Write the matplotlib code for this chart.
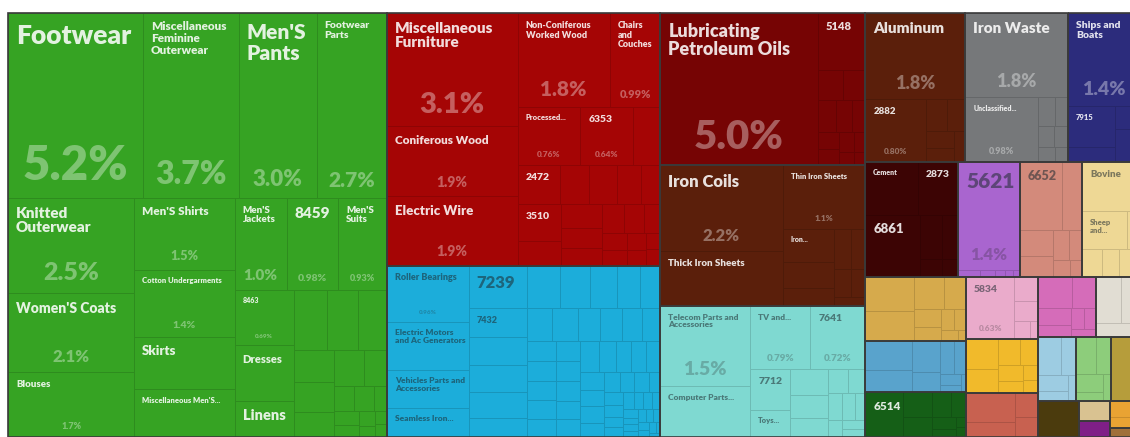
import matplotlib
matplotlib.use("Agg")
import matplotlib.pyplot as plt
from matplotlib.patches import Rectangle
from matplotlib.colors import to_rgb

plt.rcParams['font.family'] = ['Lato', 'DejaVu Sans']

# ---- data (share of exports, %) ----
# textiles
tex_names = ["Footwear", "Miscellaneous\nFeminine\nOuterwear", "Men'S\nPants", "Footwear\nParts",
             "Knitted\nOuterwear", "Women'S Coats", "Blouses",
             "Men'S Shirts", "Cotton Undergarments", "Skirts", "Miscellaneous Men'S...",
             "Men'S\nJackets", "8459", "Men'S\nSuits",
             "8463", "Dresses", "Linens"]
tex_values = [5.2, 3.7, 3.0, 2.7, 2.5, 2.1, 1.7, 1.5, 1.4, 1.1, 1.0, 1.0, 0.98, 0.93, 0.69, 0.68, 0.45]
tex_small = [0.42, 0.39, 0.37, 0.27, 0.25, 0.21, 0.22, 0.17, 0.105, 0.105, 0.07,
             0.07, 0.06, 0.05, 0.04, 0.03, 0.03]

# wood, furniture
red_names = ["Miscellaneous\nFurniture", "Coniferous Wood", "Electric Wire",
             "Non-Coniferous\nWorked Wood", "Chairs\nand\nCouches", "Processed...", "6353",
             "2472", "3510"]
red_values = [3.1, 1.9, 1.9, 1.8, 0.99, 0.76, 0.64, 0.34, 0.34]
red_small = [0.33, 0.24, 0.23, 0.19, 0.16, 0.22, 0.20, 0.17, 0.15, 0.13, 0.12, 0.10,
             0.09, 0.08, 0.07, 0.06, 0.05, 0.05]

# machines
blue_names = ["Roller Bearings", "Electric Motors\nand Ac Generators",
              "Vehicles Parts and\nAccessories", "Seamless Iron...", "7239", "7432"]
blue_values = [0.96, 0.82, 0.65, 0.50, 0.52, 0.35]
blue_small = [0.34, 0.33, 0.32, 0.23,
              0.29, 0.27, 0.24, 0.21, 0.18,
              0.17, 0.17, 0.15, 0.15, 0.135, 0.12,
              0.125, 0.12, 0.115, 0.115, 0.11,
              0.10, 0.10, 0.10, 0.09, 0.09,
              0.12, 0.11, 0.10, 0.10, 0.09, 0.09, 0.08, 0.08, 0.07, 0.07, 0.06, 0.06,
              0.05, 0.05, 0.05, 0.04, 0.04, 0.04, 0.03, 0.03, 0.03, 0.03, 0.02, 0.02,
              0.02, 0.02, 0.02, 0.02, 0.02, 0.015, 0.015, 0.01, 0.01]

# mineral products
min_names = ["Lubricating\nPetroleum Oils", "5148"]
min_values = [5.0, 0.56]
min_small = [0.16, 0.14, 0.12, 0.10, 0.09, 0.08, 0.07, 0.06, 0.05, 0.04, 0.03]

# iron
met_names = ["Iron Coils", "Thick Iron Sheets", "Thin Iron Sheets", "Iron..."]
met_values = [2.2, 1.4, 1.1, 0.36]
met_small = [0.27, 0.20, 0.14, 0.12, 0.10, 0.08, 0.06]

# electronics
tel_names = ["Telecom Parts and\nAccessories", "Computer Parts...", "TV and...", "7641",
             "7712", "Toys..."]
tel_values = [1.5, 0.95, 0.79, 0.72, 0.34, 0.23]
tel_small = [0.20, 0.18, 0.15, 0.10, 0.09, 0.08, 0.07, 0.06, 0.05, 0.04, 0.04]

# smaller sections
alu_names, alu_values = ["Aluminum", "2882"], [1.8, 0.80]
alu_small = [0.14, 0.12, 0.10, 0.08, 0.07]
waste_names, waste_values = ["Iron Waste", "Unclassified..."], [1.8, 0.98]
waste_small = [0.10, 0.08, 0.07, 0.06, 0.05, 0.04]
ship_names, ship_values = ["Ships and\nBoats", "7915"], [1.4, 0.40]
ship_small = [0.15, 0.12, 0.10, 0.07]
stone_names, stone_values = ["Cement", "2873", "6861"], [0.58, 0.44, 0.71]
stone_small = [0.20, 0.15, 0.08, 0.06]
chem_names, chem_values = ["5621"], [1.4]
chem_small = [0.03, 0.02, 0.015, 0.01, 0.01]
glass_names, glass_values = ["6652"], [0.6]
glass_small = [0.28, 0.18, 0.14, 0.10, 0.08, 0.06, 0.04]
animal_names, animal_values = ["Bovine", "Sheep\nand..."], [0.6, 0.35]
animal_small = [0.10, 0.12, 0.10, 0.07, 0.05]
gold_small = [0.35, 0.30, 0.20, 0.15, 0.10, 0.08, 0.06, 0.05, 0.04, 0.02]
steel_small = [0.28, 0.22, 0.18, 0.12, 0.10, 0.08, 0.05, 0.03, 0.02]
dkgreen_names, dkgreen_values = ["6514"], [0.35]
dkgreen_small = [0.15, 0.12, 0.10, 0.08, 0.06, 0.04, 0.02, 0.02]
pink_names, pink_values = ["5834"], [0.63]
pink_small = [0.12, 0.10, 0.06, 0.03]
yellow_small = [0.20, 0.16, 0.12, 0.10, 0.08, 0.06, 0.05, 0.04]
redsal_small = [0.30, 0.15, 0.12, 0.10]
magenta_small = [0.22, 0.15, 0.12, 0.08, 0.06, 0.05, 0.04]
cream_small = [0.25, 0.18, 0.13]
lblue_small = [0.18, 0.12, 0.10, 0.06, 0.04]
lgreen_small = [0.15, 0.12, 0.10, 0.05, 0.05]
olive_small = [0.38]
dkolive_small = [0.31]
tan_small = [0.13]
plum_small = [0.10]
orange_small = [0.08, 0.05, 0.04]
brown_small = [0.06]

# label font sizes (name pt, percent pt); 0 = not shown
LABEL_PT = {
    "Footwear": (19, 34), "Miscellaneous\nFeminine\nOuterwear": (8.5, 23),
    "Men'S\nPants": (15, 16), "Footwear\nParts": (7.5, 15),
    "Knitted\nOuterwear": (11, 18), "Women'S Coats": (10, 12), "Blouses": (7, 6.5),
    "Men'S Shirts": (8.5, 9), "Cotton Undergarments": (5.5, 7.5), "Skirts": (9.5, 0),
    "Miscellaneous Men'S...": (5.5, 0), "Men'S\nJackets": (7, 11), "8459": (11, 7.5),
    "Men'S\nSuits": (7, 6.5), "8463": (5, 4.5), "Dresses": (8, 0), "Linens": (10.5, 0),
    "Miscellaneous\nFurniture": (11, 21), "Coniferous Wood": (8.5, 10),
    "Electric Wire": (9.5, 10), "Non-Coniferous\nWorked Wood": (6.5, 15),
    "Chairs\nand\nCouches": (6.5, 8), "Processed...": (5.5, 6), "6353": (7.5, 6),
    "2472": (7.5, 0), "3510": (7.5, 0),
    "Roller Bearings": (6.5, 4.5), "Electric Motors\nand Ac Generators": (6, 0),
    "Vehicles Parts and\nAccessories": (6, 0), "Seamless Iron...": (6, 0),
    "7239": (12, 0), "7432": (6.5, 0),
    "Lubricating\nPetroleum Oils": (13, 29), "5148": (8, 0),
    "Iron Coils": (12, 12), "Thick Iron Sheets": (7, 0), "Thin Iron Sheets": (5.5, 6),
    "Iron...": (5, 0),
    "Telecom Parts and\nAccessories": (6, 14), "Computer Parts...": (6, 0),
    "TV and...": (6, 7), "7641": (7.5, 7), "7712": (7.5, 0), "Toys...": (5.5, 0),
    "Aluminum": (11, 13), "2882": (7, 6), "Iron Waste": (11, 13),
    "Unclassified...": (5, 6.5), "Ships and\nBoats": (7.5, 14), "7915": (5.5, 0),
    "Cement": (5, 0), "2873": (7.5, 0), "6861": (9.5, 0), "5621": (15, 12),
    "6652": (9, 0), "Bovine": (7, 0), "Sheep\nand...": (5.5, 0), "5834": (7.5, 6),
    "6514": (8.5, 0),
}


# ---- treemap helpers ----
def cells(names, values, color):
    return [("leaf", n, v, color) for n, v in zip(names, values)]


def filler(values, color):
    return [("leaf", "", v, color) for v in values]


def total(node):
    if node[0] == "leaf":
        return node[2]
    if node[0] == "grp":
        return total(node[1])
    return sum(total(k) for k in node[1])


def squarify(vals, x0, y0, x1, y1, ratio=1.618):
    # same row logic as d3.treemapSquarify
    rects = []
    value = sum(vals)
    i0, n = 0, len(vals)
    while i0 < n:
        dx, dy = x1 - x0, y1 - y0
        s = mn = mx = vals[i0]
        i1 = i0 + 1
        alpha = max(dy / dx, dx / dy) / (value * ratio)
        beta = s * s * alpha
        best = max(mx / beta, beta / mn)
        while i1 < n:
            v = vals[i1]
            s2, mn2, mx2 = s + v, min(mn, v), max(mx, v)
            beta = s2 * s2 * alpha
            r = max(mx2 / beta, beta / mn2)
            if r > best:
                break
            s, mn, mx, best = s2, mn2, mx2, r
            i1 += 1
        if dx < dy:
            yb = y0 + dy * s / value
            xx = x0
            for v in vals[i0:i1]:
                w = dx * v / s
                rects.append((xx, y0, xx + w, yb))
                xx += w
            y0 = yb
        else:
            xb = x0 + dx * s / value
            yy = y0
            for v in vals[i0:i1]:
                h = dy * v / s
                rects.append((x0, yy, xb, yy + h))
                yy += h
            x0 = xb
        value -= s
        i0 = i1
    return rects


leaves, groups = [], []


def place(node, x0, y0, x1, y1):
    kind = node[0]
    if kind == "leaf":
        leaves.append((node, x0, y0, x1, y1))
        return
    if kind == "grp":
        groups.append((x0, y0, x1, y1))
        place(node[1], x0, y0, x1, y1)
        return
    kids = node[1]
    vals = [total(k) for k in kids]
    if kind == "sq":
        for k, r in zip(kids, squarify(vals, x0, y0, x1, y1)):
            place(k, *r)
        return
    s = sum(vals)
    pos = x0 if kind == "h" else y0
    for k, v in zip(kids, vals):
        if kind == "h":
            w = (x1 - x0) * v / s
            place(k, pos, y0, pos + w, y1)
        else:
            w = (y1 - y0) * v / s
            place(k, x0, pos, x1, pos + w)
        pos += w


def G(node):
    return ("grp", node)


def sq(values, color):
    return G(("sq", filler(values, color)))


# ---- colours ----
GREEN, RED, BLUE = "#36a323", "#a50505", "#1cadda"
MINERAL, METAL, TEAL = "#760404", "#5b1f0b", "#7fd9d1"

# ---- hierarchy ----
t, tsm = cells(tex_names, tex_values, GREEN), filler(tex_small, GREEN)
textiles = ("v", [
    ("h", t[0:4]),
    ("h", [("v", t[4:7]), ("v", t[7:11]),
           ("v", [("h", t[11:14]),
                  ("h", [("v", t[14:17]),
                         ("v", [("h", tsm[0:3]),
                                ("h", [("v", tsm[3:6]),
                                       ("v", [("h", tsm[6:8]), ("h", tsm[8:11]),
                                              ("sq", tsm[11:])])])])])])])])

r, rsm = cells(red_names, red_values, RED), filler(red_small, RED)
wood = ("h", [("v", r[0:3]),
              ("v", [("h", r[3:5]), ("h", [r[5], r[6], rsm[0]]),
                     ("h", [r[7]] + rsm[1:5]),
                     ("h", [("v", [r[8], rsm[5]]), ("sq", rsm[6:])])])])

b, bsm = cells(blue_names, blue_values, BLUE), filler(blue_small, BLUE)
machines = ("h", [("v", b[0:4]), ("v", b[4:6] + bsm[0:4]),
                  ("v", [("h", bsm[4:9]), ("h", bsm[9:15]),
                         ("h", [("v", bsm[15:20]), ("v", bsm[20:25]), ("sq", bsm[25:])])])])

m, msm = cells(min_names, min_values, MINERAL), filler(min_small, MINERAL)
mineral = ("h", [m[0], ("v", [m[1], ("sq", msm)])])

mt, mtsm = cells(met_names, met_values, METAL), filler(met_small, METAL)
metals = ("h", [("v", mt[0:2]),
                ("v", [mt[2], ("h", [("v", [mt[3]] + mtsm[0:2]), ("sq", mtsm[2:])])])])

tl, tlsm = cells(tel_names, tel_values, TEAL), filler(tel_small, TEAL)
electronics = ("h", [("v", tl[0:2]),
                     ("v", [("h", tl[2:4]),
                            ("h", [("v", tl[4:6]), ("v", tlsm[0:3]), ("sq", tlsm[3:])])])])

a, asm = cells(alu_names, alu_values, METAL), filler(alu_small, METAL)
w, wsm = cells(waste_names, waste_values, "#76787a"), filler(waste_small, "#76787a")
s, ssm = cells(ship_names, ship_values, "#2c2c7c"), filler(ship_small, "#2c2c7c")
c, csm = cells(stone_names, stone_values, "#3c0404"), filler(stone_small, "#3c0404")
p, psm = cells(chem_names, chem_values, "#a965cf"), filler(chem_small, "#a965cf")
gl, glsm = cells(glass_names, glass_values, "#d38a7b"), filler(glass_small, "#d38a7b")
an, ansm = cells(animal_names, animal_values, "#eed895"), filler(animal_small, "#eed895")
dg, dgsm = cells(dkgreen_names, dkgreen_values, "#155f17"), filler(dkgreen_small, "#155f17")
pk, pksm = cells(pink_names, pink_values, "#eaabcb"), filler(pink_small, "#eaabcb")

right = ("v", [
    ("h", [G(("v", [a[0], ("h", [a[1], ("sq", asm)])])),
           G(("v", [w[0], ("h", [w[1], ("sq", wsm)])])),
           G(("v", [s[0], ("h", [("v", [s[1], ssm[0]]), ("sq", ssm[1:])])]))]),
    ("h", [G(("v", [("h", c[0:2]), ("h", [c[2], ("sq", csm)])])),
           G(("v", [p[0], ("h", psm)])),
           G(("v", [("h", [gl[0], glsm[0]]), ("sq", glsm[1:])])),
           G(("v", [an[0], ("h", [an[1], ansm[0]]), ("h", ansm[1:])]))]),
    ("h", [("v", [sq(gold_small, "#d6aa4c"), sq(steel_small, "#59a3cc"),
                  G(("h", [dg[0], ("sq", dgsm)]))]),
           ("v", [G(("h", [pk[0], ("sq", pksm)])), sq(yellow_small, "#f1ba2b"),
                  sq(redsal_small, "#c86150")]),
           ("v", [("h", [sq(magenta_small, "#d56cb9"), sq(cream_small, "#e1ddd3")]),
                  ("h", [sq(lblue_small, "#9dcce2"), sq(lgreen_small, "#8dcd7b"),
                         sq(olive_small, "#b69d3b")]),
                  ("h", [sq(dkolive_small, "#4b3b0d"),
                         ("v", [sq(tan_small, "#d9c291"), sq(plum_small, "#7f1f87")]),
                         ("v", [sq(orange_small, "#e9a333"), sq(brown_small, "#a0703a")])])])]),
])

root = ("h", [G(textiles), ("v", [G(wood), G(machines)]),
              ("v", [G(mineral), G(metals), G(electronics)]), right])
# the map runs a little past the right edge of the picture
place(root, 8, 13, 1140, 437)


def mix(col, other, f):
    c1, c2 = to_rgb(col), to_rgb(other)
    return tuple(x + (y - x) * f for x, y in zip(c1, c2))


def lum(col):
    r_, g_, b_ = to_rgb(col)
    return 0.299 * r_ + 0.587 * g_ + 0.114 * b_


# ---- drawing ----
fig = plt.figure(figsize=(11.3, 4.37), dpi=100)
ax = fig.add_axes([0, 0, 1, 1])
ax.set_xlim(0, 1130)
ax.set_ylim(437, 0)
ax.axis("off")

for (_, name, v, color), x0, y0, x1, y1 in leaves:
    ax.add_patch(Rectangle((x0, y0), x1 - x0, y1 - y0, facecolor=color,
                           edgecolor=mix(color, "black", 0.14), lw=0.7))
for x0, y0, x1, y1 in groups:
    ax.add_patch(Rectangle((x0, y0), x1 - x0, y1 - y0, fill=False,
                           edgecolor="#3a3a3a", lw=1.2))

for (_, name, v, color), x0, y0, x1, y1 in leaves:
    if name not in LABEL_PT:
        continue
    npt, ppt = LABEL_PT[name]
    if lum(color) > 0.5:
        ncol, pcol = mix(color, "#1e2a30", 0.55), mix(color, "#222222", 0.25)
    else:
        ncol, pcol = mix(color, "white", 0.86), mix(color, "white", 0.36)
    px = npt * 100 / 72
    ax.text(x0 + 8, y0 + 6 + 0.2 * px, name, fontsize=npt, fontweight="heavy",
            color=ncol, ha="left", va="top", linespacing=1.1, clip_on=True)
    if ppt:
        lbl = f"{v:.1f}%" if v >= 1 else f"{v:.2f}%"
        ppx = ppt * 100 / 72
        ax.text((x0 + x1) / 2, y1 - 6 - 0.25 * ppx, lbl, fontsize=ppt,
                fontweight="heavy", color=pcol, ha="center", va="baseline", clip_on=True)

fig.savefig("out.png", dpi=100)
